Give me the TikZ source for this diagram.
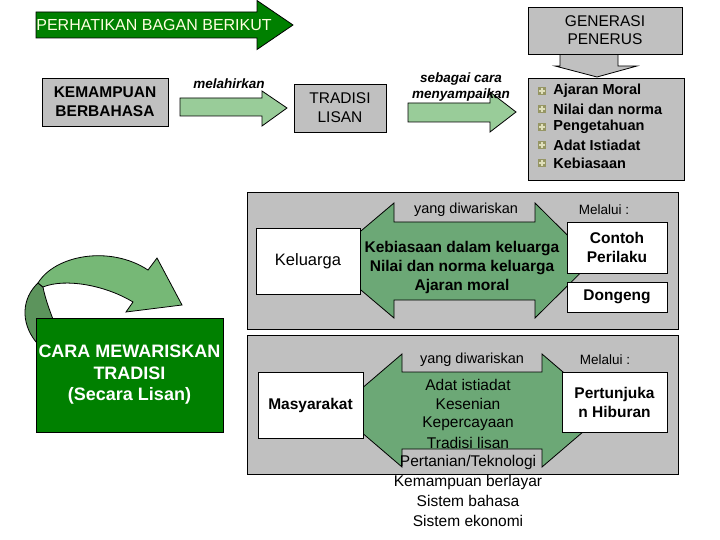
\documentclass[tikz,border=0pt]{standalone}
\usepackage{fontspec}
\setmainfont{Liberation Sans}
\usepackage{tikz}

\definecolor{abu}{RGB}{192,192,192}
\definecolor{hijautua}{RGB}{0,128,0}
\definecolor{hijaumuda}{RGB}{153,204,153}
\definecolor{hijausedang}{RGB}{108,168,118}
\definecolor{hijaulengkung}{RGB}{118,184,118}
\definecolor{hijaugelap}{RGB}{92,148,92}
\definecolor{zaitun}{RGB}{150,150,100}
\definecolor{krem}{RGB}{255,255,225}

\newcommand{\ukuran}[2]{\fontsize{#1}{#2}\selectfont}

\tikzset{
	kotak/.style={draw, fill=abu, inner sep=0pt, align=center},
	kotakputih/.style={draw, fill=white, inner sep=0pt, align=center},
	blokpanah/.style={draw, fill=#1},
}

\begin{document}
\begin{tikzpicture}[x=1pt, y=-1pt, line join=miter, line width=0.8pt, font=\ukuran{15}{18}]
	\useasboundingbox (0,0) rectangle (720,540);

	% Panah judul
	\draw[blokpanah=hijautua] (36,12) -- (257,12) -- (257,0.5) -- (293,25) -- (257,49.5) -- (257,38) -- (36,38) -- cycle;
	\node[anchor=west, inner sep=0pt, text=krem, font=\ukuran{16}{19}] (judul) at (36,25) {PERHATIKAN BAGAN BERIKUT};

	% Baris atas
	\node[kotak, minimum width=126, minimum height=48, font=\ukuran{15.5}{19}\bfseries] (kemampuan) at (105,102) {KEMAMPUAN\\BERBAHASA};
	\draw[blokpanah=hijaumuda] (180,98) -- (262,98) -- (262,91) -- (287,108) -- (262,126) -- (262,116) -- (180,116) -- cycle;
	\node[font=\ukuran{13.5}{16}\bfseries\itshape] (melahirkan) at (229,84) {melahirkan};

	\node[kotak, minimum width=92, minimum height=48, font=\ukuran{15.5}{19}] (tradisi) at (340,108) {TRADISI\\LISAN};
	\draw[blokpanah=hijaumuda] (408,103) -- (490,103) -- (490,92) -- (516,112) -- (490,132) -- (490,122) -- (408,122) -- cycle;
	\node[align=center, font=\ukuran{13.5}{16}\bfseries\itshape] (sebagai) at (461,87) {sebagai cara\\menyampaikan};

	% Generasi penerus
	\draw[blokpanah=abu] (560,40) -- (560,66) -- (555,66) -- (597,77) -- (637,66) -- (618,66) -- (618,40);
	\node[kotak, minimum width=154, minimum height=47, font=\ukuran{15.5}{18}] (generasi) at (605,30.5) {GENERASI\\PENERUS};
	\node[kotak, minimum width=156, minimum height=102] (daftar) at (606,129) {};
	\foreach \teks [count=\i] in {Ajaran Moral, Nilai dan norma, Pengetahuan, Adat Istiadat, Kebiasaan} {
		\fill[zaitun] (538,73+18*\i-4) rectangle (546,73+18*\i+4);
		\fill[krem!70!zaitun] (541,73+18*\i-3) rectangle (543,73+18*\i+3);
		\fill[krem!70!zaitun] (539,73+18*\i-1) rectangle (545,73+18*\i+1);
		\node[anchor=west, inner sep=0pt, font=\ukuran{14.5}{17}\bfseries] (butir\i) at (553,73+18*\i) {\teks};
	}

	% Panel keluarga
	\node[kotak, minimum width=431, minimum height=137] (panelkeluarga) at (462.5,260.5) {};
	\draw[blokpanah=hijausedang] (326,260.5) -- (394,203) -- (394,222) -- (535,222) -- (535,203) -- (593,260.5) -- (535,318) -- (535,300) -- (394,300) -- (394,318) -- cycle;
	\node[kotakputih, minimum width=104, minimum height=66, font=\ukuran{16.5}{19}] (keluarga) at (308,261) {Keluarga};
	\node[font=\ukuran{14.5}{16}] (diwariskan1) at (466,210) {yang diwariskan};
	\node[font=\ukuran{13.5}{16}] (melalui1) at (604,210) {Melalui :};
	\node[align=center, font=\ukuran{15.5}{19}\bfseries] (isikeluarga) at (462,267) {Kebiasaan dalam keluarga\\Nilai dan norma keluarga\\Ajaran moral};
	\node[kotakputih, minimum width=100, minimum height=51, font=\ukuran{15.5}{19}\bfseries] (contoh) at (617,247.5) {Contoh\\Perilaku};
	\node[kotakputih, minimum width=100, minimum height=30, font=\ukuran{15.5}{19}\bfseries] (dongeng) at (617,297) {Dongeng};

	% Panel masyarakat
	\node[kotak, minimum width=431, minimum height=139] (panelmasyarakat) at (462.5,404.5) {};
	\draw[blokpanah=hijausedang] (336,410.5) -- (402,354) -- (402,372) -- (542,372) -- (542,354) -- (608,410.5) -- (542,467) -- (542,449) -- (402,449) -- (402,467) -- cycle;
	\node[kotakputih, minimum width=105, minimum height=66, font=\ukuran{15.5}{19}\bfseries] (masyarakat) at (310.5,405) {Masyarakat};
	\node[font=\ukuran{14.5}{16}] (diwariskan2) at (472,360) {yang diwariskan};
	\node[font=\ukuran{13.5}{16}] (melalui2) at (605,360) {Melalui :};
	\node[kotakputih, minimum width=105, minimum height=60, font=\ukuran{15.5}{19}\bfseries] (pertunjukan) at (614.5,402) {Pertunjuka\\n Hiburan};
	\foreach \teks [count=\i] in {Adat istiadat, Kesenian, Kepercayaan, Tradisi lisan, Pertanian/Teknologi, Kemampuan berlayar, Sistem bahasa, Sistem ekonomi}
		\node[font=\ukuran{15.5}{18}] (warisan\i) at (468,365.6+19.4*\i) {\teks};

	% Panah melengkung
	\draw[fill=hijaugelap] (38,283) .. controls (22,298) and (20,322) .. (36,342) -- (58,332) .. controls (50,312) and (45,298) .. (43,287) -- cycle;
	\draw[fill=hijaulengkung] (38,283) .. controls (55,255) and (110,245) .. (148,270) -- (157,258) -- (182,305) -- (126,312) -- (133,302) .. controls (105,285) and (65,278) .. (43,287) -- cycle;
	\node[draw, fill=hijautua, inner sep=0pt, minimum width=187, minimum height=114, text=white, align=center, font=\ukuran{18}{21.5}\bfseries] (cara) at (129.5,375) {CARA MEWARISKAN\\TRADISI\\(Secara Lisan)};
\end{tikzpicture}
\end{document}
